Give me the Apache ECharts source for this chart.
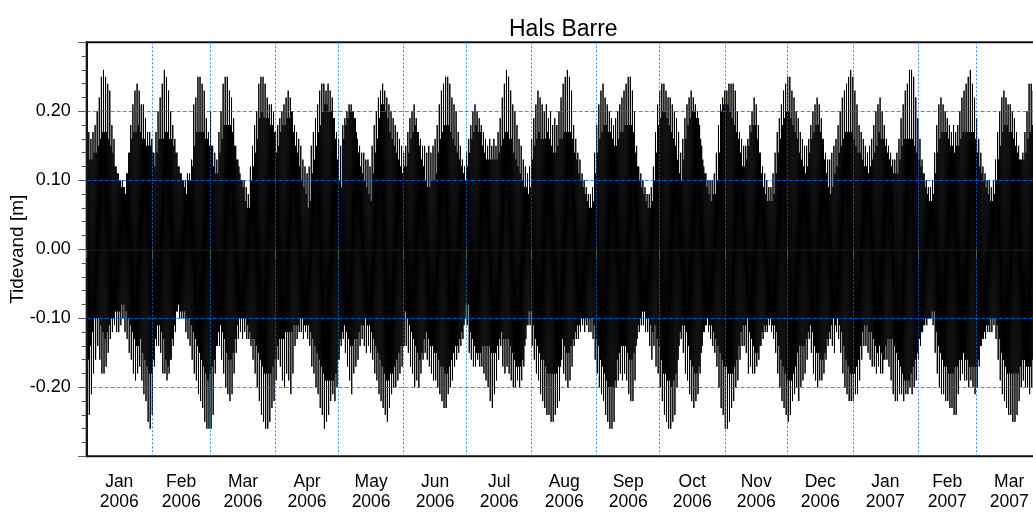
<!DOCTYPE html>
<html>
<head>
<meta charset="utf-8">
<title>Hals Barre</title>
<script src="https://cdn.jsdelivr.net/npm/echarts@6/dist/echarts.min.js"></script>
<style>
  html, body { margin: 0; padding: 0; background: #fff; }
  #chart { width: 1033px; height: 513px; }
</style>
</head>
<body>
<div id="chart"></div>
<script>
// Daily tidal extremes at Hals Barre, 1 Jan 2006 onwards, in centimetres.
// hhw = higher high water, lhw = lower high water,
// hlw = higher low water,  llw = lower low water.
const hhw = [
  18,17,16,17,18,20,22,25,26,25, 24,23,18,16,12,11,10,10,9,11, 14,18,21,23,24,23,21,21,19,17,
  17,16,14,17,20,22,24,26,25,23, 20,18,16,14,12,11,10,10,11,11, 13,21,22,25,25,24,23,19,17,20,
  15,14,13,17,20,24,25,25,23,22, 19,15,13,11,10,
  10,9,8,12,15, 18,20,24,25,25, 24,22,21,21,20, 17,18,19,20,21, 22,23,22,20,18, 17,16,15,13,12,
  11,12,15,17,19, 21,23,24,24,23, 24,23,22,19,17, 16,15,18,19,20, 21,21,20,19,16, 15,14,14,13,13,
  12,15,18,20,22, 23,24,23,22,21, 20,19,18,17,16, 15,
  14,15,17,19,20,21,19,17,16,15, 15,14,15,14,15,16,18,21,23,24, 25,25,24,22,21,20,17,15,13,12,
  14,16,18,20,21,20,19,18,17,16, 15,16,15,16,15,17,19,22,24,26, 25,23,21,20,18,16,15,13,12,11,
  12,16,19,21,23,22,21,20,21,19, 20,18,19,18,20,
  22,24,25,26,25,23,18,16,14,13, 11,10,9,8,8,9,14,18,21,23, 24,22,21,20,19,18,19,20,21,22,
  23,24,25,25,23,20,15,12,11,10, 9,8,8,9,12,17,21,23,24,24, 23,22,22,21,20,19,17,14,16,19,
  21,22,23,22,21,20,18,15,12,11, 10,10,10,11,14,18,
  21,22,23,23,24,24,24,23,20, 17,16,15,15,16,18,20,22,21,18, 14,12,11,10,9,9,11,14,17,19,
  21,23,24,25,25,23,22,20,19,17, 16,15,15,16,18,20,21,22,21,19, 16,14,13,13,14,15,16,18,20,22,
  23,24,25,26,25,23,21,18,17,16, 15,14,15,16,18,20,
  21,22,20,18,16,15,14,13,13,14, 16,19,21,23,24,26,26,25,22,19, 16,13,11,10,9,9,10,14,18,21,
  22,21,20,19,18,17,18,17,18,20, 22,23,24,25,26,24,22,19,16,14, 12,11,10,10,9,10,13,17,20,22,
  23,22,21,21,20,19,17,15,13,14, 17,20,24,24,23
];
const lhw = [
  12,13,13,14,14,15,16,17,17,17, 16,15,14,12,11,10,9,9,8,11, 14,16,17,17,18,17,16,16,15,15,
  15,14,12,14,16,16,16,17,17,16, 16,15,14,12,11,10,9,8,10,10, 12,15,17,17,17,17,16,16,15,15,
  12,11,11,14,16,18,18,18,18,17, 15,13,12,10,9,
  7,6,6,10,12, 14,16,19,20,19, 19,19,18,18,17, 14,15,17,18,18, 19,19,20,17,15, 14,12,10,9,8,
  6,7,11,13,15, 17,18,20,21,21, 20,20,19,16,13, 10,9,16,18,19, 20,20,19,17,14, 12,11,10,9,8,
  7,11,14,16,19, 21,21,20,19,17, 16,15,14,13,12, 11,
  12,12,14,16,17,18,17,15,13,12, 10,9,9,10,10,11,14,16,17,18, 18,18,17,16,15,14,13,12,11,10,
  12,14,16,17,18,17,17,15,14,13, 13,13,13,13,13,14,15,16,17,17, 16,16,14,13,12,11,10,9,9,8,
  9,13,15,16,17,16,16,16,17,16, 15,14,14,15,16,
  16,17,17,17,17,16,14,13,11,10, 9,8,7,6,6,7,11,14,16,17, 18,18,17,17,16,15,15,16,17,17,
  18,18,18,18,17,14,12,10,9,8, 7,6,6,7,10,14,18,19,20,20, 19,18,17,16,15,13,11,10,13,16,
  18,19,20,20,19,19,16,13,11,9, 8,7,8,8,10,14,
  20,21,21,21,20,19,18,17,16, 14,12,12,13,15,17,18,18,16,14, 11,9,8,7,7,7,8,11,14,16,
  18,19,20,20,19,18,17,16,14,13, 12,11,12,14,16,17,18,18,17,16, 13,11,9,8,9,11,12,14,15,16,
  17,17,17,17,16,15,14,14,13,12, 12,11,12,13,14,15,
  17,16,16,15,14,13,12,11,11,11, 13,15,16,16,16,16,16,15,14,13, 12,11,9,8,7,7,8,11,14,16,
  17,17,17,16,15,15,14,15,15,16, 17,17,17,17,17,17,16,14,12,11, 10,9,8,7,7,8,10,13,15,17,
  18,18,17,17,16,15,14,13,13,13, 14,16,17,18,18
];
const hlw = [
  -16,-14,-12,-10,-10,-10,-11,-12,-13,-12, -11,-10,-10,-9,-9,-9,-8,-8,-9,-10, -11,-12,-13,-14,-14,-13,-15,-16,-17,-18,
  -18,-16,-13,-11,-11,-12,-13,-16,-17,-16, -13,-11,-9,-8,-9,-9,-9,-10,-10,-11, -12,-13,-14,-15,-16,-17,-18,-19,-18,-17,
  -16,-14,-12,-11,-12,-13,-15,-16,-16,-15, -13,-11,-10,-10,-10,
  -10,-11,-12,-13,-13, -14,-15,-16,-17,-18, -18,-18,-18,-17,-16, -14,-13,-13,-13,-12, -12,-12,-12,-11,-11,
  -11,-10,-10,-11,-11, -11,-12,-13,-14,-15, -16,-17,-18,-19,-19, -19,-19,-19,-18,-16, -13,-12,-11,-12,-13,
  -14,-14,-13,-13,-12, -11,-11,-10,-11,-11, -12,-13,-14,-15,-16, -17,-18,-19,-19,-18, -18,-17,-16,-15,-14, -14,
  -9,-10,-11,-12,-13,-14,-15,-16,-15,-13, -12,-13,-14,-14,-15,-15,-16,-17,-17,-18, -18,-17,-16,-15,-14,-14,-13,-12,-11,-8,
  -8,-12,-13,-14,-15,-15,-15,-14,-14,-14, -14,-15,-15,-15,-14,-13,-12,-13,-13,-13, -14,-15,-16,-17,-17,-17,-16,-14,-11,-9,
  -9,-11,-13,-14,-15,-16,-16,-17,-18,-18, -18,-18,-18,-17,-17,
  -13,-14,-15,-15,-14,-13,-12,-11,-11,-10, -10,-10,-10,-10,-10,-11,-13,-14,-16,-17, -18,-19,-20,-20,-20,-19,-16,-15,-14,-14,
  -14,-15,-16,-16,-15,-14,-11,-10,-9,-9, -10,-10,-11,-12,-11,-13,-14,-16,-18,-18, -19,-19,-20,-19,-18,-16,-12,-11,-11,-12,
  -14,-16,-17,-18,-18,-17,-15,-12,-11,-10, -11,-11,-12,-13,-14,-15,
  -16,-17,-17,-18,-18,-18,-17,-16,-14, -12,-11,-11,-10,-12,-13,-14,-15,-15,-14, -12,-11,-11,-10,-10,-11,-11,-12,-14,-16,
  -17,-18,-19,-19,-19,-18,-17,-15,-14,-14, -14,-13,-12,-11,-12,-14,-15,-15,-16,-16, -15,-13,-12,-11,-10,-11,-10,-11,-12,-14,
  -16,-17,-18,-18,-18,-17,-16,-14,-12,-11, -11,-12,-12,-13,-14,-15,
  -14,-15,-16,-14,-13,-13,-13,-14,-15,-16, -17,-18,-19,-19,-19,-18,-17,-16,-15,-13, -12,-11,-10,-10,-10,-9,-9,-12,-14,-15,
  -16,-17,-17,-18,-18,-18,-17,-17,-16,-16, -15,-16,-16,-17,-17,-17,-17,-16,-14,-13, -12,-11,-11,-10,-10,-10,-11,-13,-15,-16,
  -17,-18,-18,-18,-18,-18,-18,-17,-16,-16, -17,-17,-17,-16,-16
];
const llw = [
  -23,-24,-21,-18,-16,-14,-16,-18,-18,-17, -15,-13,-12,-11,-12,-12,-11,-10,-12,-13, -15,-16,-18,-19,-18,-17,-19,-21,-22,-25,
  -26,-24,-17,-14,-14,-15,-18,-18,-19,-18, -16,-14,-12,-9,-10,-10,-10,-12,-13,-14, -16,-18,-19,-21,-22,-23,-25,-26,-26,-26,
  -24,-18,-14,-14,-16,-18,-20,-21,-22,-21, -18,-15,-13,-12,-13,
  -12,-13,-13,-14,-16, -18,-20,-22,-24,-25, -26,-26,-25,-23,-22, -19,-16,-17,-19,-20, -18,-19,-21,-18,-14,
  -13,-12,-12,-13,-12, -13,-14,-17,-18,-20, -21,-23,-24,-26,-25, -24,-22,-21,-22,-20, -16,-14,-13,-15,-17,
  -19,-21,-18,-17,-16, -14,-13,-14,-15,-14, -15,-16,-18,-19,-21, -22,-23,-24,-25,-23, -21,-20,-20,-19,-18, -17,
  -14,-14,-15,-17,-18,-20,-19,-20,-18,-16, -15,-16,-17,-18,-19,-19,-20,-21,-22,-23, -23,-21,-20,-19,-17,-16,-15,-14,-13,-10,
  -11,-15,-16,-17,-17,-16,-17,-17,-18,-19, -20,-22,-23,-21,-19,-16,-14,-17,-18,-17, -18,-19,-20,-20,-19,-20,-19,-17,-13,-11,
  -11,-14,-16,-18,-19,-21,-22,-23,-24,-24, -25,-25,-24,-23,-22,
  -16,-18,-19,-20,-19,-17,-14,-13,-13,-12, -11,-12,-11,-12,-12,-13,-16,-18,-20,-21, -22,-24,-25,-26,-26,-25,-20,-19,-18,-19,
  -18,-19,-21,-22,-22,-19,-13,-12,-11,-11, -12,-12,-14,-16,-14,-17,-18,-20,-22,-24, -25,-26,-26,-25,-24,-20,-14,-13,-15,-18,
  -19,-21,-22,-23,-22,-21,-18,-14,-12,-11, -12,-13,-14,-15,-17,-20,
  -23,-24,-26,-26,-25,-23,-22,-20,-19, -16,-14,-14,-15,-18,-17,-18,-18,-17,-16, -14,-13,-12,-12,-11,-12,-13,-15,-18,-20,
  -22,-23,-24,-25,-24,-22,-21,-20,-22,-20, -19,-18,-16,-13,-15,-18,-19,-20,-19,-19, -18,-16,-14,-13,-14,-15,-12,-13,-15,-18,
  -20,-21,-22,-22,-22,-21,-21,-19,-16,-14, -14,-15,-16,-17,-17,-18,
  -17,-18,-18,-16,-16,-17,-19,-21,-22,-22, -21,-21,-22,-21,-21,-20,-21,-20,-19,-16, -14,-12,-11,-11,-10,-10,-11,-15,-18,-20,
  -21,-21,-22,-22,-23,-23,-24,-24,-21,-19, -18,-19,-19,-20,-19,-20,-21,-20,-17,-14, -13,-13,-12,-12,-12,-11,-13,-16,-19,-21,
  -22,-23,-24,-24,-25,-25,-24,-22,-20,-19, -20,-20,-21,-20,-19
];

// Order of the extremes within each day and their hour after midnight.
const dailyCycle = [
  { values: hhw, hour: 0.0 },
  { values: llw, hour: 6.2 },
  { values: lhw, hour: 12.4 },
  { values: hlw, hour: 18.6 }
];

const monthNames = ['Jan','Feb','Mar','Apr','May','Jun','Jul','Aug','Sep','Oct','Nov','Dec'];
const yTicks = [-0.3, -0.2, -0.1, 0.0, 0.1, 0.2, 0.3];

const axisStart = new Date(2006, 0, 1).getTime();
const axisEnd = new Date(2007, 3, 1).getTime();

// water level series in metres, built from the daily extremes
const levels = [];
for (let d = 0; d < hhw.length; d++) {
  const day = new Date(2006, 0, 1 + d).getTime();
  for (const step of dailyCycle) {
    levels.push([day + step.hour * 3600000, step.values[d] / 100]);
  }
}

// month boundaries (ticks, grid lines) and month centres (labels)
const monthStarts = [];
const monthMids = [];
for (let m = 0; m <= 15; m++) {
  monthStarts.push(new Date(2006, m, 1).getTime());
}
for (let m = 0; m < 15; m++) {
  monthMids.push((monthStarts[m] + monthStarts[m + 1]) / 2);
}

const gridBlue = 'rgba(0,112,255,0.78)';
const font = 'Liberation Sans, Arial, sans-serif';

const chart = echarts.init(document.getElementById('chart'), null, { renderer: 'canvas' });
chart.setOption({
  animation: false,
  backgroundColor: '#fff',
  textStyle: { fontFamily: font, color: '#000' },
  title: {
    text: 'Hals Barre',
    left: 504,
    top: 13,
    textStyle: { fontFamily: font, fontSize: 23, fontWeight: 'normal', color: '#000' }
  },
  grid: {
    left: 86.7,
    top: 42.3,
    width: 955,
    height: 414,
    containLabel: false,
    outerBoundsMode: 'none',
    show: true,
    borderColor: '#111',
    borderWidth: 2,
    backgroundColor: 'transparent'
  },
  xAxis: {
    type: 'value',
    min: axisStart,
    max: axisEnd,
    z: 5,
    axisLine: { show: true, lineStyle: { color: '#111', width: 2 } },
    axisTick: {
      show: true,
      customValues: monthStarts,
      length: 9,
      lineStyle: { color: '#555', width: 1 }
    },
    axisLabel: {
      customValues: monthMids,
      margin: 16,
      fontSize: 17.5,
      lineHeight: 20,
      color: '#000',
      fontFamily: font,
      formatter: function (v) {
        const dt = new Date(v);
        return monthNames[dt.getMonth()] + '\n' + dt.getFullYear();
      }
    },
    splitLine: {
      show: true,
      showMinLine: false,
      showMaxLine: false,
      lineStyle: { color: gridBlue, width: 1, type: [2, 2] }
    }
  },
  yAxis: {
    type: 'value',
    min: yTicks[0],
    max: yTicks[yTicks.length - 1],
    interval: 0.1,
    z: 5,
    name: 'Tidevand [m]',
    nameLocation: 'middle',
    nameGap: 59,
    nameMoveOverlap: false,
    nameTextStyle: { fontSize: 19, color: '#000', fontFamily: font },
    axisLine: { show: true, lineStyle: { color: '#111', width: 2 } },
    axisTick: { show: true, length: 8.5, lineStyle: { color: '#555', width: 1 } },
    minorTick: { show: true, splitNumber: 5, length: 5, lineStyle: { color: '#555', width: 1 } },
    axisLabel: {
      showMinLabel: false,
      showMaxLabel: false,
      margin: 16,
      fontSize: 18,
      color: '#000',
      fontFamily: font,
      formatter: function (v) {
        return (Math.abs(v) < 1e-9 ? 0 : v).toFixed(2);
      }
    },
    splitLine: {
      show: true,
      showMinLine: false,
      showMaxLine: false,
      lineStyle: { color: gridBlue, width: 1, type: [4, 2] }
    }
  },
  series: [{
    type: 'line',
    data: levels,
    showSymbol: false,
    symbol: 'none',
    silent: true,
    lineStyle: { color: '#000', width: 1 },
    z: 2
  }]
});
</script>
</body>
</html>
